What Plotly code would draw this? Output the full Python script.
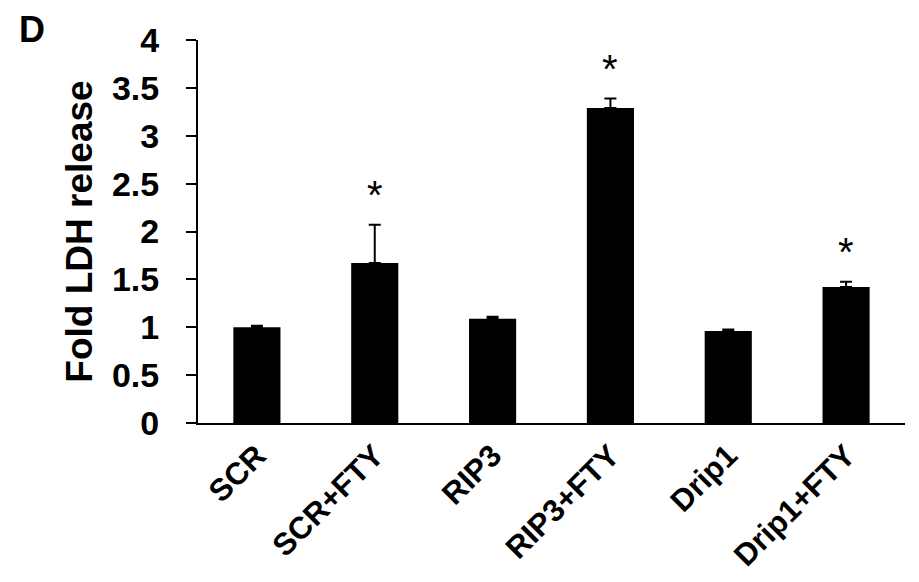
import plotly.graph_objects as go

categories = ["SCR", "SCR+FTY", "RIP3", "RIP3+FTY", "Drip1", "Drip1+FTY"]
values = [1.00, 1.67, 1.09, 3.29, 0.96, 1.42]
errors = [0.015, 0.40, 0.02, 0.10, 0.017, 0.055]
significant = [False, True, False, True, False, True]
y_ticks = [0, 0.5, 1, 1.5, 2, 2.5, 3, 3.5, 4]
y_tick_labels = ["0", "0.5", "1", "1.5", "2", "2.5", "3", "3.5", "4"]

FONT = "Liberation Sans, Arial, Helvetica, sans-serif"

fig = go.Figure()
fig.add_trace(go.Bar(
    x=categories,
    y=values,
    marker=dict(color="black", line=dict(width=0)),
    error_y=dict(type="data", array=errors, arrayminus=[0] * len(errors),
                 symmetric=False, color="black", thickness=2, width=6),
    width=0.4,
    showlegend=False,
))

star_offset = 0.31
for cat, v, e, s in zip(categories, values, errors, significant):
    if s:
        fig.add_annotation(x=cat, y=v + e + star_offset, text="*", showarrow=False,
                           xanchor="center", yanchor="middle",
                           font=dict(family=FONT, size=40, color="black"))

fig.add_annotation(xref="paper", yref="paper", x=-0.254, y=1.0836, text="D",
                   showarrow=False, xanchor="left", yanchor="top", borderpad=0,
                   font=dict(family=FONT, size=36, color="black", weight="bold"))

fig.update_layout(
    width=919, height=582,
    margin=dict(l=190, r=22, t=32, b=167),
    plot_bgcolor="white", paper_bgcolor="white",
    font=dict(family=FONT, color="black"),
    bargap=0.6,
)
fig.update_xaxes(
    showline=True, linecolor="black", linewidth=2,
    ticks="", tickangle=-45, showgrid=False, zeroline=False, automargin=False,
    tickfont=dict(family=FONT, size=31, color="black", weight="bold"),
    range=[-0.5, 5.5],
)
fig.update_yaxes(
    range=[0, 4], tickvals=y_ticks, ticktext=y_tick_labels,
    showline=True, linecolor="black", linewidth=2,
    ticks="outside", ticklen=10, tickwidth=2, tickcolor="black",
    showgrid=False, zeroline=False, automargin=False,
    tickfont=dict(family=FONT, size=34, color="black", weight="bold"),
    ticklabelstandoff=20,
    title=dict(text="Fold LDH release", standoff=8,
               font=dict(family=FONT, size=37, color="black", weight="bold")),
)

fig.write_html("out.html")
